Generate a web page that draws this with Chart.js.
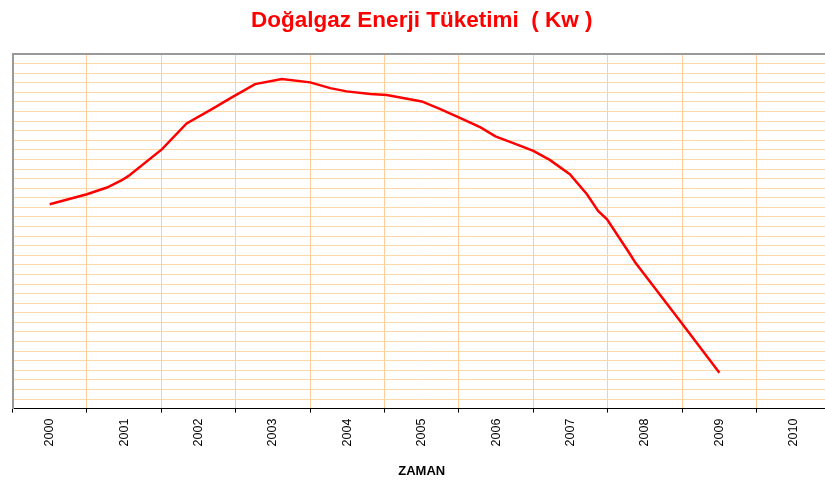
<!DOCTYPE html>
<html>
<head>
<meta charset="utf-8">
<script src="https://cdn.jsdelivr.net/npm/chart.js@4/dist/chart.umd.min.js"></script>
<style>
  html, body { margin: 0; padding: 0; background: #fff; }
  .wrap { width: 825px; height: 486px; overflow: hidden; }
</style>
</head>
<body>
<div class="wrap">
  <canvas id="myChart" width="842" height="486"></canvas>
</div>
<script>
// years shown on the axis
const tickYears = [2000, 2001, 2002, 2003, 2004, 2005, 2006, 2007, 2008, 2009, 2010];

// points (fractional year, consumption in grid units)
const years = [
  2000.0, 2000.5, 2000.77, 2000.97, 2001.06, 2001.51, 2001.84, 2002.18,
  2002.43, 2002.76, 2003.12, 2003.5, 2003.77, 2003.99, 2004.31, 2004.53,
  2005.0, 2005.25, 2005.52, 2005.79, 2005.99, 2006.23, 2006.5, 2006.72,
  2006.99, 2007.22, 2007.37, 2007.49, 2007.8, 2007.87, 2008.49, 2009.0
];
const consumption = [
  21.32, 22.37, 23.07, 23.83, 24.28, 27.07, 29.76, 31.25,
  32.4, 33.86, 34.39, 34.04, 33.44, 33.1, 32.82, 32.71,
  32.05, 31.25, 30.31, 29.34, 28.4, 27.7, 26.89, 25.95,
  24.46, 22.37, 20.62, 19.75, 16.1, 15.23, 8.96, 3.73
];

const yMax = 37;

const points = years.map((x, i) => ({ x: x, y: consumption[i] }));

const ctx = document.getElementById("myChart").getContext("2d");
new Chart(ctx, {
  type: "line",
  data: {
    datasets: [
      {
        label: "Doğalgaz",
        data: points,
        borderColor: "#FF0000",
        borderWidth: 2.5,
        pointRadius: 0,
        tension: 0,
        fill: false,
      },
    ],
  },
  options: {
    responsive: false,
    animation: false,
    layout: { padding: { left: 12.5, right: 11, top: 0, bottom: 3 } },
    plugins: {
      legend: { display: false },
      tooltip: { enabled: false },
      title: {
        display: true,
        text: "Doğalgaz Enerji Tüketimi  ( Kw )",
        color: "#FF0000",
        font: { family: "Liberation Sans, Arial, sans-serif", size: 22.5, weight: "bold" },
        padding: { top: 7, bottom: 20 },
      },
    },
    scales: {
      x: {
        type: "linear",
        min: 1999.5,
        max: 2010.5,
        afterBuildTicks: (scale) => {
          scale.ticks = tickYears.map((v) => ({ value: v }));
        },
        grid: {
          offset: true,
          color: "#FFCC99",
          lineWidth: 1,
          tickColor: "#000",
          tickLength: 4,
        },
        border: { color: "#000", width: 1 },
        ticks: {
          autoSkip: false,
          minRotation: 90,
          maxRotation: 90,
          padding: 6,
          color: "#000",
          font: { family: "Liberation Sans, Arial, sans-serif", size: 12.5 },
          callback: (v) => String(v),
        },
        title: {
          display: true,
          text: "ZAMAN",
          color: "#000",
          font: { family: "Liberation Sans, Arial, sans-serif", size: 13, weight: "bold" },
          padding: { top: 11, bottom: 4 },
        },
      },
      y: {
        min: 0,
        max: yMax,
        ticks: { display: false, stepSize: 1 },
        grid: {
          drawTicks: false,
          color: (c) => (c.tick && c.tick.value === yMax ? "#999999" : "#FFD8A8"),
          lineWidth: (c) => (c.tick && c.tick.value === yMax ? 2 : 1),
        },
        border: { color: "#999999", width: 2 },
      },
    },
  },
});
</script>
</body>
</html>
